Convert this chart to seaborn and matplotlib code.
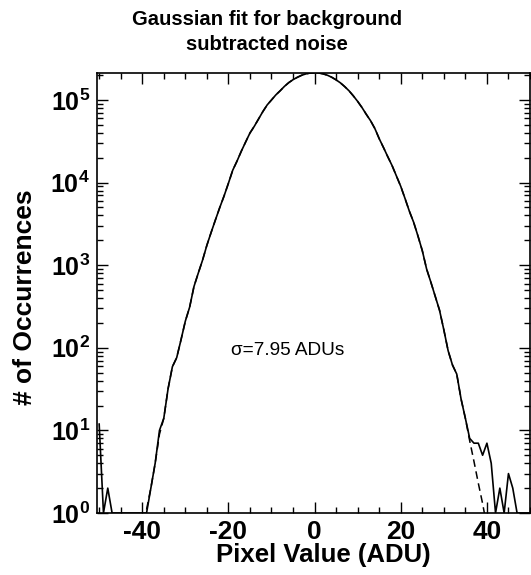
import numpy as np
import pandas as pd
import matplotlib
matplotlib.use("Agg")
import matplotlib.pyplot as plt
import seaborn as sns
from matplotlib.ticker import MultipleLocator, LogLocator, NullFormatter

# ============================================================
# DATA
# ============================================================

# histogram of background subtracted pixel values, one bin per ADU
pixel_values = list(range(-50, 51))
counts = [
    12, 1, 2, 1, 1, 1, 1, 1, 1, 1,                                  # -50 .. -41
    1, 1, 2, 4, 10, 14, 32, 59, 76, 125,                            # -40 .. -31
    210, 310, 550, 800, 1150, 1740, 2500, 3550, 5000, 6900,         # -30 .. -21
    9800, 14100, 18200, 24000, 31000, 39800, 47900, 58900, 72400, 87100,   # -20 .. -11
    100000, 115000, 129000, 146000, 162000, 176000, 188000, 199000, 207000, 212000,  # -10 .. -1
    214000,                                                         # 0
    212000, 207000, 199000, 188000, 175000, 161000, 145000, 129000, 112000, 96000,   # 1 .. 10
    81000, 67000, 56000, 45000, 34000, 26500, 20500, 16000, 12000, 9000,   # 11 .. 20
    6400, 4500, 3300, 2250, 1500, 900, 620, 420, 285, 165,          # 21 .. 30
    92, 62, 48, 24, 14, 8, 7, 7, 5, 7,                              # 31 .. 40
    4, 1, 2, 1, 3, 2, 1, 1, 1, 1,                                   # 41 .. 50
]

# gaussian fit (sigma = 7.95 ADU), dashed curve; it lies under the data
# everywhere except in the far right tail
fit_values = list(range(-40, 41))
fit_counts = [
    0.8, 1.1, 2, 4, 9, 14, 32, 59, 76, 125,                          # -40 .. -31
    210, 310, 550, 800, 1150, 1740, 2500, 3550, 5000, 6900,         # -30 .. -21
    9800, 14100, 18200, 24000, 31000, 39800, 47900, 58900, 72400, 87100,
    100000, 115000, 129000, 146000, 162000, 176000, 188000, 199000, 207000, 212000,
    214000,
    212000, 207000, 199000, 188000, 175000, 161000, 145000, 129000, 112000, 96000,
    81000, 67000, 56000, 45000, 34000, 26500, 20500, 16000, 12000, 9000,
    6400, 4500, 3300, 2250, 1500, 900, 620, 420, 285, 165,
    92, 62, 48, 24, 14, 7.5, 4.2, 2.3, 1.3, 0.68,                   # 31 .. 40
]

x_ticks = [-40, -20, 0, 20, 40]
x_tick_labels = ["-40", "-20", "0", "20", "40"]
y_ticks = [1, 10, 100, 1000, 10000, 100000]
y_tick_labels = [r"$\mathbf{10^{%d}}$" % k for k in range(6)]

title = "Gaussian fit for background\nsubtracted noise"
sigma_text = "σ=7.95 ADUs"

df_data = pd.DataFrame({"x": pixel_values, "n": counts})
df_fit = pd.DataFrame({"x": fit_values, "n": fit_counts})

# ============================================================
# STYLE
# ============================================================

sns.set_style("ticks")
plt.rcParams["font.family"] = ["Liberation Sans", "DejaVu Sans"]
plt.rcParams["mathtext.fontset"] = "custom"
plt.rcParams["mathtext.rm"] = "Liberation Sans:bold"
plt.rcParams["mathtext.bf"] = "Liberation Sans:bold"
plt.rcParams["axes.unicode_minus"] = False
for key in ["text.color", "axes.labelcolor", "xtick.color", "ytick.color",
            "axes.edgecolor"]:
    plt.rcParams[key] = "black"

fig = plt.figure(figsize=(5.31, 5.75), dpi=100)
ax = fig.add_axes([97 / 531, 1 - 513 / 575, 433 / 531, 440 / 575])

# ============================================================
# PLOT
# ============================================================

sns.lineplot(data=df_fit, x="x", y="n", ax=ax, color="black",
             linewidth=1.1, linestyle=(0, (5, 3)))
sns.lineplot(data=df_data, x="x", y="n", ax=ax, color="black",
             linewidth=1.2)

ax.set_yscale("log")
ax.set_xlim(-50.5, 50)
ax.set_ylim(1, 2.12e5)

ax.set_xticks(x_ticks)
ax.set_xticklabels(x_tick_labels, fontweight="bold", fontsize=19)
ax.xaxis.set_minor_locator(MultipleLocator(5))
ax.set_yticks(y_ticks)
ax.set_yticklabels(y_tick_labels, fontsize=18)
ax.yaxis.set_minor_locator(LogLocator(base=10, subs=range(2, 10)))
ax.yaxis.set_minor_formatter(NullFormatter())

ax.tick_params(which="both", direction="in", top=True, right=True,
               color="black", labelcolor="black", width=1.0)
ax.tick_params(which="major", length=8, pad=5)
ax.tick_params(which="minor", length=4)
for sp in ax.spines.values():
    sp.set_linewidth(1.2)
    sp.set_color("black")

ax.set_xlabel("")
ax.set_ylabel("")

ax.text(-6.3, 94, sigma_text, ha="center", va="center", fontsize=13.7,
        color="black")

fig.text(0.503, 1 - 32 / 575, title, ha="center", va="center",
         fontsize=14.6, fontweight="bold", linespacing=1.35, color="black")
fig.text(323 / 531, 1 - 555 / 575, "Pixel Value (ADU)", ha="center",
         va="center", fontsize=18.5, fontweight="bold", color="black")
fig.text(25 / 531, 1 - 297 / 575, "# of Occurrences", ha="center",
         va="center", rotation=90, fontsize=19, fontweight="bold",
         color="black")

fig.savefig("out.png", dpi=100)
